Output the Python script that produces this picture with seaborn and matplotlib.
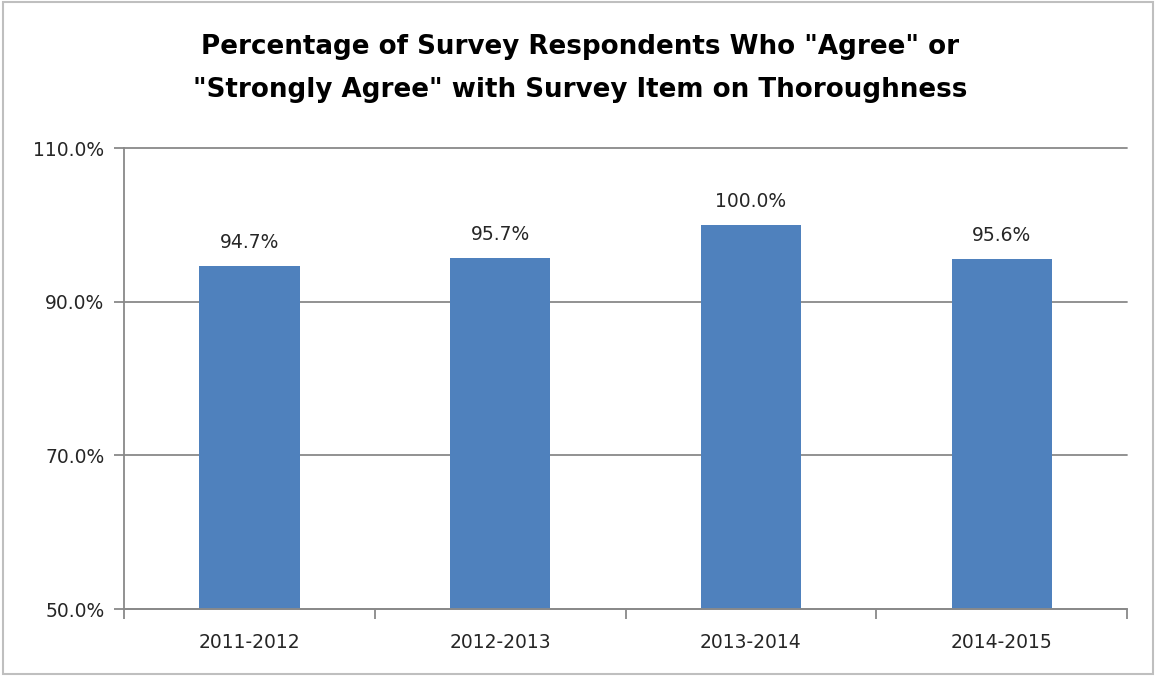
import matplotlib
matplotlib.use("Agg")
import matplotlib.pyplot as plt
import seaborn as sns
import pandas as pd
from matplotlib.patches import Rectangle

categories = ["2011-2012", "2012-2013", "2013-2014", "2014-2015"]
values = [94.7, 95.7, 100.0, 95.6]
yticks = [50, 70, 90, 110]
title = 'Percentage of Survey Respondents Who "Agree" or\n"Strongly Agree" with Survey Item on Thoroughness'

sns.set_theme(style="white")
plt.rcParams['font.family'] = ['DejaVu Sans']

df = pd.DataFrame({"year": categories, "pct": values})

fig = plt.figure(figsize=(11.56, 6.76), dpi=100)
ax = fig.add_axes([0.1073, 0.0991, 0.8677, 0.6819])

sns.barplot(data=df, x="year", y="pct", color="#4F81BD", saturation=1, width=0.4,
            linewidth=0, edgecolor="none", ax=ax)

ax.set_ylim(50, 110)
ax.set_xlim(-0.5, len(categories) - 0.5)
ax.set_yticks(yticks)
ax.set_yticklabels([f"{v:.1f}%" for v in yticks], fontsize=13.5, color="#262626")
ax.set_xticks(range(len(categories)))
ax.set_xticklabels(categories, fontsize=13.5, color="#262626")
ax.tick_params(axis="x", length=0, pad=17)
ax.tick_params(axis="y", length=7, width=1.3, color="#898989", pad=7, left=True)
ax.set_xticks([i - 0.5 for i in range(len(categories) + 1)], minor=True)
ax.tick_params(axis="x", which="minor", length=7, width=1.3, color="#898989", bottom=True)

ax.yaxis.grid(True, color="#898989", linewidth=1.3)
for gl in ax.get_ygridlines():
    gl.set_clip_on(False)
ax.set_axisbelow(True)
for s in ["top", "right"]:
    ax.spines[s].set_visible(False)
for s in ["left", "bottom"]:
    ax.spines[s].set_color("#898989")
    ax.spines[s].set_linewidth(1.3)
ax.set_xlabel("")
ax.set_ylabel("")

for i, v in enumerate(values):
    ax.annotate(f"{v:.1f}%", (i, v), xytext=(0, 10), textcoords="offset points",
                ha="center", va="bottom", fontsize=13.5, color="#262626")

fig.text(0.502, 0.898, title, ha="center", va="center", fontsize=18.8,
         fontweight="bold", color="#000000", linespacing=1.85)

fig.patches.append(Rectangle((0.003, 0.003), 0.994, 0.994, transform=fig.transFigure,
                             fill=False, edgecolor="#BFBFBF", linewidth=1.5))

fig.savefig("out.png", dpi=100, facecolor="white")
